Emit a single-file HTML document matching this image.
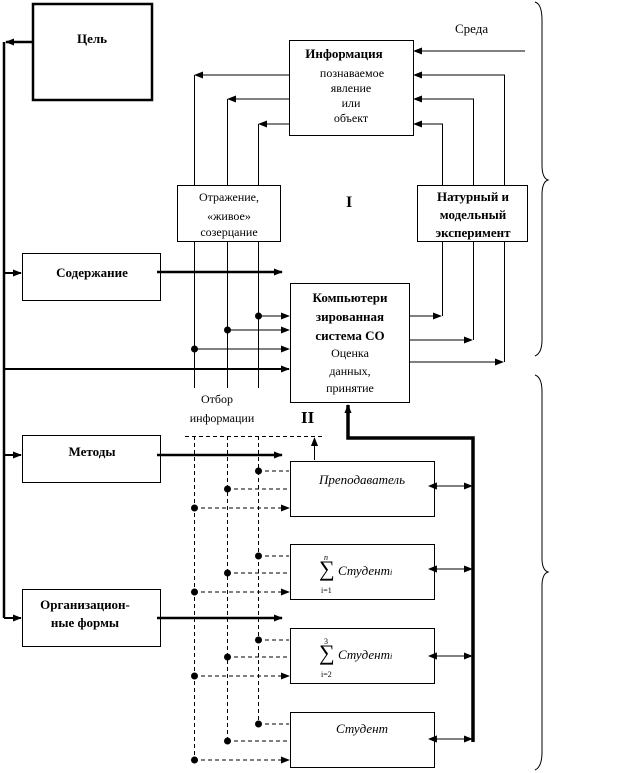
<!DOCTYPE html>
<html><head><meta charset="utf-8"><style>
html,body{margin:0;padding:0;background:#fff;}
svg{display:block;}
text{font-family:"Liberation Serif","Noto Serif CJK SC",serif;fill:#000;}
.b{font-weight:bold;font-size:13px;}
.n{font-size:12px;}
.i{font-style:italic;font-size:13px;}
</style></head><body>
<svg width="624" height="773" viewBox="0 0 624 773" xmlns="http://www.w3.org/2000/svg">
<defs>
<marker id="a" viewBox="0 0 10 10" refX="9" refY="5" markerWidth="9" markerHeight="9" markerUnits="userSpaceOnUse" orient="auto"><path d="M0,1 L10,5 L0,9 z" fill="#000"/></marker>
<marker id="as" viewBox="0 0 10 10" refX="1" refY="5" markerWidth="9" markerHeight="9" markerUnits="userSpaceOnUse" orient="auto-start-reverse"><path d="M0,1 L10,5 L0,9 z" fill="#000"/></marker>
</defs>
<g stroke="#000" fill="none">
<rect x="33" y="4" width="119" height="96" stroke-width="2.5"/>
<rect x="22.5" y="253.5" width="138" height="47"/>
<rect x="22.5" y="435.5" width="138" height="47"/>
<rect x="22.5" y="589.5" width="138" height="57"/>
<rect x="289.5" y="40.5" width="124" height="95"/>
<rect x="177.5" y="185.5" width="103" height="56"/>
<rect x="417.5" y="185.5" width="110" height="56"/>
<rect x="290.5" y="283.5" width="119" height="119"/>
<rect x="290.5" y="461.5" width="144" height="55"/>
<rect x="290.5" y="544.5" width="144" height="55"/>
<rect x="290.5" y="628.5" width="144" height="55"/>
<rect x="290.5" y="712.5" width="144" height="55"/>
<path d="M4,42 V618" stroke-width="2.5"/>
<path d="M33,42 H6" stroke-width="2.5" marker-end="url(#a)"/>
<path d="M4,273 H21" stroke-width="2" marker-end="url(#a)"/>
<path d="M4,455 H21" stroke-width="2" marker-end="url(#a)"/>
<path d="M4,618 H21" stroke-width="2" marker-end="url(#a)"/>
<path d="M4,369 H289" stroke-width="2" marker-end="url(#a)"/>
<path d="M157,272 H282" stroke-width="2.5" marker-end="url(#a)"/>
<path d="M157,455 H282" stroke-width="2.5" marker-end="url(#a)"/>
<path d="M157,618 H282" stroke-width="2.5" marker-end="url(#a)"/>
<path d="M289,75 H195" marker-end="url(#a)"/>
<path d="M289,99 H228" marker-end="url(#a)"/>
<path d="M289,124 H259" marker-end="url(#a)"/>
<path d="M194.5,75 V185 M227.5,99 V185 M258.5,124 V185"/>
<path d="M194.5,242 V388 M227.5,242 V388 M258.5,242 V388"/>
<path d="M525,51 H414" marker-end="url(#a)"/>
<path d="M504.5,185 V75 H414" marker-end="url(#a)"/>
<path d="M473.5,185 V99 H414" marker-end="url(#a)"/>
<path d="M442.5,185 V124 H414" marker-end="url(#a)"/>
<path d="M442.5,242 V316 M473.5,242 V340 M504.5,242 V362"/>
<path d="M410,316 H441" marker-end="url(#a)"/>
<path d="M410,340 H472" marker-end="url(#a)"/>
<path d="M410,362 H503" marker-end="url(#a)"/>
<path d="M258,316 H289" marker-end="url(#a)"/>
<path d="M227,330 H289" marker-end="url(#a)"/>
<path d="M194,349 H289" marker-end="url(#a)"/>
<path d="M473,742 V438 H348 V405" stroke-width="3.5" marker-end="url(#a)"/>
<path d="M436,486 H472" marker-start="url(#as)" marker-end="url(#a)"/>
<path d="M436,569 H472" marker-start="url(#as)" marker-end="url(#a)"/>
<path d="M436,656 H472" marker-start="url(#as)" marker-end="url(#a)"/>
<path d="M436,739 H472" marker-start="url(#as)" marker-end="url(#a)"/>
<g stroke-dasharray="4,3">
<path d="M185,436.5 H322"/>
<path d="M194.5,436 V760 M227.5,436 V741 M258.5,436 V724"/>
<path d="M258,471 H289 M227,489 H289 M194,508 H289" marker-end="url(#a)"/>
<path d="M258,556 H289 M227,573 H289 M194,592 H289" marker-end="url(#a)"/>
<path d="M258,640 H289 M227,657 H289 M194,676 H289" marker-end="url(#a)"/>
<path d="M258,724 H289 M227,741 H289 M194,760 H289" marker-end="url(#a)"/>
</g>
<path d="M314.5,460 V438" marker-end="url(#a)"/>
<path d="M535,2 Q542,4 542,20 V165 Q542,178 548,180 Q542,182 542,195 V340 Q542,353 535,356"/>
<path d="M535,375 Q542,377 542,392 V558 Q542,570 548,572 Q542,574 542,586 V752 Q542,767 535,770"/>
</g>
<g fill="#000">
<circle cx="258.5" cy="316" r="3.5"/><circle cx="227.5" cy="330" r="3.5"/><circle cx="194.5" cy="349" r="3.5"/>
<circle cx="258.5" cy="471" r="3.5"/><circle cx="227.5" cy="489" r="3.5"/><circle cx="194.5" cy="508" r="3.5"/>
<circle cx="258.5" cy="556" r="3.5"/><circle cx="227.5" cy="573" r="3.5"/><circle cx="194.5" cy="592" r="3.5"/>
<circle cx="258.5" cy="640" r="3.5"/><circle cx="227.5" cy="657" r="3.5"/><circle cx="194.5" cy="676" r="3.5"/>
<circle cx="258.5" cy="724" r="3.5"/><circle cx="227.5" cy="741" r="3.5"/><circle cx="194.5" cy="760" r="3.5"/>
</g>
<text class="b" x="92" y="43" text-anchor="middle">Цель</text>
<text class="b" x="92" y="277" text-anchor="middle">Содержание</text>
<text class="b" x="92" y="456" text-anchor="middle">Методы</text>
<text class="b" x="85" y="609" text-anchor="middle">Организацион-</text>
<text class="b" x="85" y="627" text-anchor="middle">ные формы</text>
<text x="455" y="33" font-size="13">Среда</text>
<text class="b" x="344" y="58" text-anchor="middle">Информация</text>
<text class="n" x="352" y="77" text-anchor="middle">познаваемое</text>
<text class="n" x="351" y="92" text-anchor="middle">явление</text>
<text class="n" x="351" y="107" text-anchor="middle">или</text>
<text class="n" x="351" y="122" text-anchor="middle">объект</text>
<text class="n" x="229" y="201" text-anchor="middle">Отражение,</text>
<text class="n" x="229" y="220" text-anchor="middle">«живое»</text>
<text class="n" x="229" y="236" text-anchor="middle">созерцание</text>
<text class="b" x="473" y="201" text-anchor="middle">Натурный и</text>
<text class="b" x="473" y="219" text-anchor="middle">модельный</text>
<text class="b" x="473" y="237" text-anchor="middle">эксперимент</text>
<text x="346" y="207" font-size="16" font-weight="bold" font-family="Liberation Sans">I</text>
<text x="301" y="423" font-size="17" font-weight="bold">II</text>
<text class="b" x="350" y="302" text-anchor="middle">Компьютери</text>
<text class="b" x="350" y="321" text-anchor="middle">зированная</text>
<text class="b" x="350" y="340" text-anchor="middle">система СО</text>
<text class="n" x="350" y="357" text-anchor="middle">Оценка</text>
<text class="n" x="350" y="375" text-anchor="middle">данных,</text>
<text class="n" x="350" y="392" text-anchor="middle">принятие</text>
<text class="n" x="217" y="403" text-anchor="middle">Отбор</text>
<text class="n" x="222" y="422" text-anchor="middle">информации</text>
<text class="i" x="362" y="484" text-anchor="middle">Преподаватель</text>
<text x="319" y="576" font-size="22">∑</text>
<text x="324" y="560" font-size="8" font-style="italic">n</text>
<text x="321" y="593" font-size="8">i=1</text>
<text class="i" x="338" y="575">Студент<tspan font-size="8">i</tspan></text>
<text x="319" y="660" font-size="22">∑</text>
<text x="324" y="644" font-size="8">3</text>
<text x="321" y="677" font-size="8">i=2</text>
<text class="i" x="338" y="659">Студент<tspan font-size="8">i</tspan></text>
<text class="i" x="362" y="733" text-anchor="middle">Студент</text>
</svg>
</body></html>
